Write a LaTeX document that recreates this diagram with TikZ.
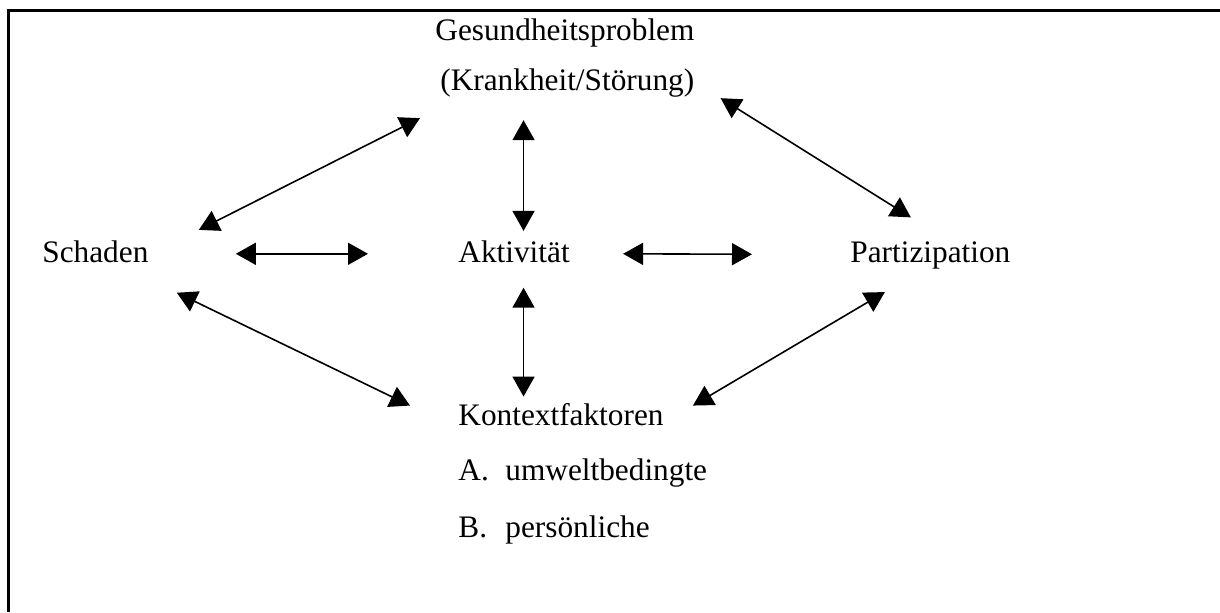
\documentclass[tikz,border=0pt]{standalone}
\usepackage{fontspec}
\setmainfont{Liberation Serif}
\usepackage{tikz}
\usetikzlibrary{arrows.meta,calc}

\tikzset{
  lbl/.style={anchor=base west, inner sep=0pt, font=\fontsize{15.65pt}{18pt}\selectfont},
  dbl/.style={line width=0.8pt, {Triangle[length=10pt,width=11pt]}-{Triangle[length=10pt,width=11pt]}}
}

\begin{document}
\begin{tikzpicture}[x=0.5pt, y=-0.5pt]
              \useasboundingbox (0,0) rectangle (1220,612);
              \draw[line width=1.5pt] (1220,10.5) -- (8.3,10.5) -- (8.3,612);

              \node[lbl] (gesund)  at (435,40)  {Gesundheitsproblem};
              \node[lbl] (krank)   at (440,90)  {(Krankheit/Störung)};
              \node[lbl] (schaden) at (42,262)  {Schaden};
              \node[lbl] (aktiv)   at (458,262) {Aktivität};
              \node[lbl] (partiz)  at (850,262) {Partizipation};
              \node[lbl] (kontext) at (458,425) {Kontextfaktoren};
              \node[lbl] (itemA)   at (458,480) {A.};
              \node[lbl] (umwelt)  at (505,480) {umweltbedingte};
              \node[lbl] (itemB)   at (458,537) {B.};
              \node[lbl] (person)  at (505,537) {persönliche};

              \draw[dbl] ($(schaden.north east)+(50,-10)$) -- ($(krank.south west)+(-20,21)$);
              \draw[dbl] ($(aktiv.north |- krank.south)+(9.5,23)$) -- ($(aktiv.north)+(9.5,-9)$);
              \draw[dbl] ($(krank.south east)+(26,1)$) -- ($(partiz.north)+(-19.5,-23.5)$);
              \draw[dbl] ($(schaden.east)+(87,2.5)$) -- ($(aktiv.west)+(-90,2.5)$);
              \draw[dbl] ($(aktiv.east)+(53,2.5)$) -- ($(partiz.west)+(-98,-0.7)$);
              \draw[dbl] ($(schaden.south east)+(28,30)$) -- ($(kontext.north west)+(-48,3)$);
              \draw[dbl] ($(aktiv.south)+(9.5,25)$) -- ($(aktiv.south |- kontext.north)+(9.5,-6)$);
              \draw[dbl] ($(partiz.south)+(-45.5,23)$) -- ($(kontext.north east)+(29,3)$);
          \end{tikzpicture}
\end{document}
